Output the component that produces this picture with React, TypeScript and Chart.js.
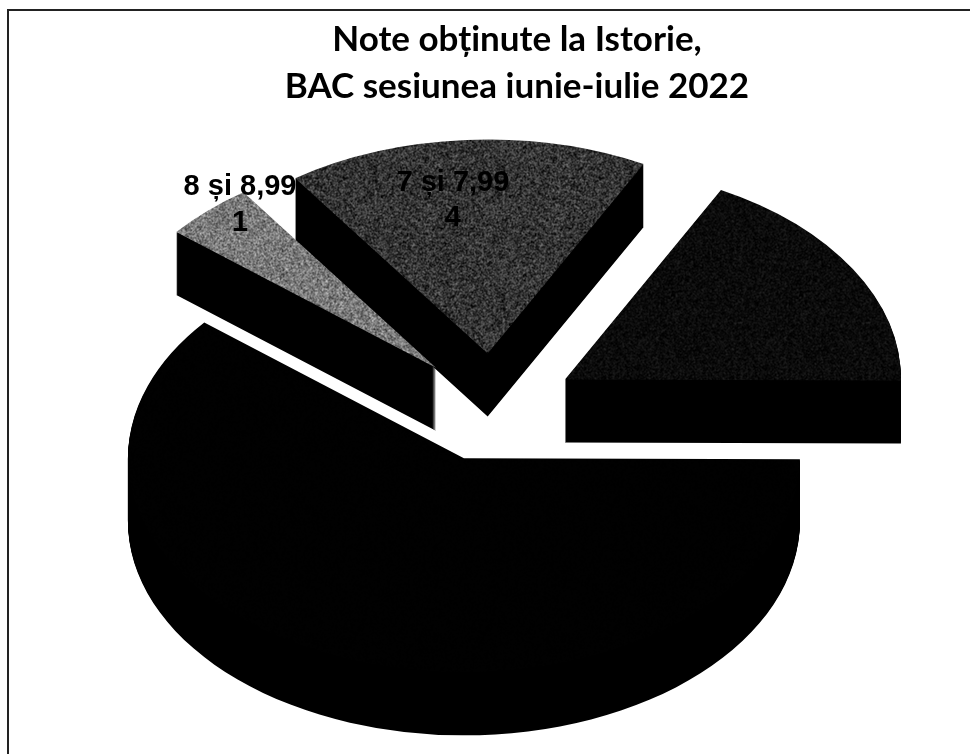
import React, { useEffect, useRef } from "react";
import { Chart, registerables } from "chart.js";

Chart.register(...registerables);

// The two dark slices carry no legible label in the reference.
const categories = ["8 și 8,99", "7 și 7,99", "", ""];
const counts = [1, 4, 4, 14];
const titleLines = ["Note obținute la Istorie,", "BAC sesiunea iunie-iulie 2022"];

// Style and layout settings
const startRotation = -50.6;
const explode = [0.25, 0.25, 0.25, 0.255];
const textureMean = [122, 52, 10, 1];
const textureSpread = [66, 58, 22, 1];
const labelAngle = [-37.4, -8.2, 0, 0];
const labelRadius = [0.96, 0.725, 0, 0];
const PIE_X = 493;
const PIE_Y = 407;
const RADIUS_X = 336;
const RADIUS_Y = 214;
const DEPTH = 63;

function makeTexture(mean: number, spread: number, seed: number) {
  const size = 128;
  const c = document.createElement("canvas");
  c.width = size;
  c.height = size;
  const g = c.getContext("2d")!;
  const img = g.createImageData(size, size);
  let s = seed;
  for (let i = 0; i < size * size; i++) {
    s = (s * 1664525 + 1013904223) >>> 0;
    const a = (s >>> 24) / 255;
    s = (s * 1664525 + 1013904223) >>> 0;
    const b = (s >>> 24) / 255;
    const v = Math.max(0, Math.min(255, mean + (a + b - 1) * spread * 1.5));
    img.data[i * 4] = v;
    img.data[i * 4 + 1] = v;
    img.data[i * 4 + 2] = v;
    img.data[i * 4 + 3] = 255;
  }
  g.putImageData(img, 0, 0);
  return g.createPattern(c, "repeat")!;
}

export default function App() {
  const ref = useRef<HTMLCanvasElement>(null);

  useEffect(() => {
    let baseX = 0;
    let baseY = 0;
    let baseR = 1;
    const textures = counts.map((_, i) =>
      makeTexture(textureMean[i], textureSpread[i], 17 + i * 31)
    );

    const apply = (ctx: CanvasRenderingContext2D) => {
      ctx.translate(PIE_X, PIE_Y);
      ctx.scale(RADIUS_X / baseR, RADIUS_Y / baseR);
      ctx.translate(-baseX, -baseY);
    };

    const pie3d = {
      id: "pie3d",
      beforeDraw(chart: any) {
        const { ctx, width, height } = chart;
        ctx.save();
        ctx.fillStyle = "#ffffff";
        ctx.fillRect(0, 0, width, height);
        ctx.fillStyle = "#222222";
        ctx.fillRect(7, 9, width - 7, 2);
        ctx.fillRect(7, 9, 2, height - 9);
        ctx.restore();
      },
      afterDatasetsUpdate(chart: any) {
        const arcs = chart.getDatasetMeta(0).data;
        baseX = arcs[0].x;
        baseY = arcs[0].y;
        baseR = arcs[0].outerRadius;
        // keep the grain at one texel per page pixel under the pie's flattening
        textures.forEach((t) =>
          t.setTransform(new DOMMatrix().scale(baseR / RADIUS_X, baseR / RADIUS_Y))
        );
        arcs.forEach((arc: any, i: number) => {
          const mid = (arc.startAngle + arc.endAngle) / 2;
          arc.x = baseX + Math.cos(mid) * explode[i] * baseR;
          arc.y = baseY + Math.sin(mid) * explode[i] * baseR;
        });
      },
      beforeDatasetsDraw(chart: any) {
        const { ctx } = chart;
        const arcs = chart.getDatasetMeta(0).data;
        ctx.save();
        apply(ctx);
        const stepY = baseR / RADIUS_Y;
        arcs.forEach((arc: any) => {
          const saved = arc.options;
          arc.options = { ...saved, backgroundColor: "#000000", borderColor: "#000000" };
          for (let k = DEPTH; k >= 1; k--) {
            ctx.save();
            ctx.translate(0, k * stepY);
            arc.draw(ctx);
            ctx.restore();
          }
          arc.options = saved;
        });
      },
      afterDatasetsDraw(chart: any) {
        const { ctx } = chart;
        ctx.restore();
        const arcs = chart.getDatasetMeta(0).data;
        ctx.save();
        ctx.fillStyle = "#000000";
        ctx.font = 'bold 29px "Liberation Sans"';
        ctx.textAlign = "center";
        ctx.textBaseline = "middle";
        arcs.forEach((arc: any, i: number) => {
          if (!categories[i]) return;
          const a = ((labelAngle[i] - 90) * Math.PI) / 180;
          const x = PIE_X + ((arc.x - baseX) / baseR + Math.cos(a) * labelRadius[i]) * RADIUS_X;
          const y = PIE_Y + ((arc.y - baseY) / baseR + Math.sin(a) * labelRadius[i]) * RADIUS_Y;
          ctx.fillText(categories[i], x, y - 17.5);
          ctx.fillText(String(counts[i]), x, y + 18);
        });
        ctx.restore();
      },
    };

    const chart = new Chart(ref.current!, {
      type: "pie",
      data: {
        labels: categories,
        datasets: [
          {
            data: counts,
            backgroundColor: textures,
            borderWidth: 0,
            clip: false,
          } as any,
        ],
      },
      options: {
        responsive: false,
        animation: false,
        events: [],
        rotation: startRotation,
        layout: { padding: { left: 64, right: 0, top: 0, bottom: 0 } },
        plugins: {
          legend: { display: false },
          tooltip: { enabled: false },
          title: {
            display: true,
            text: titleLines,
            color: "#000000",
            font: { family: "Lato", size: 35, weight: "bold", lineHeight: 1.32 },
            padding: { top: 17, bottom: 10 },
          },
        },
      },
      plugins: [pie3d],
    });
    return () => chart.destroy();
  }, []);

  return (
    <div style={{ position: "absolute", left: 0, top: 0 }}>
      <canvas ref={ref} width={970} height={754} style={{ display: "block" }} />
    </div>
  );
}
